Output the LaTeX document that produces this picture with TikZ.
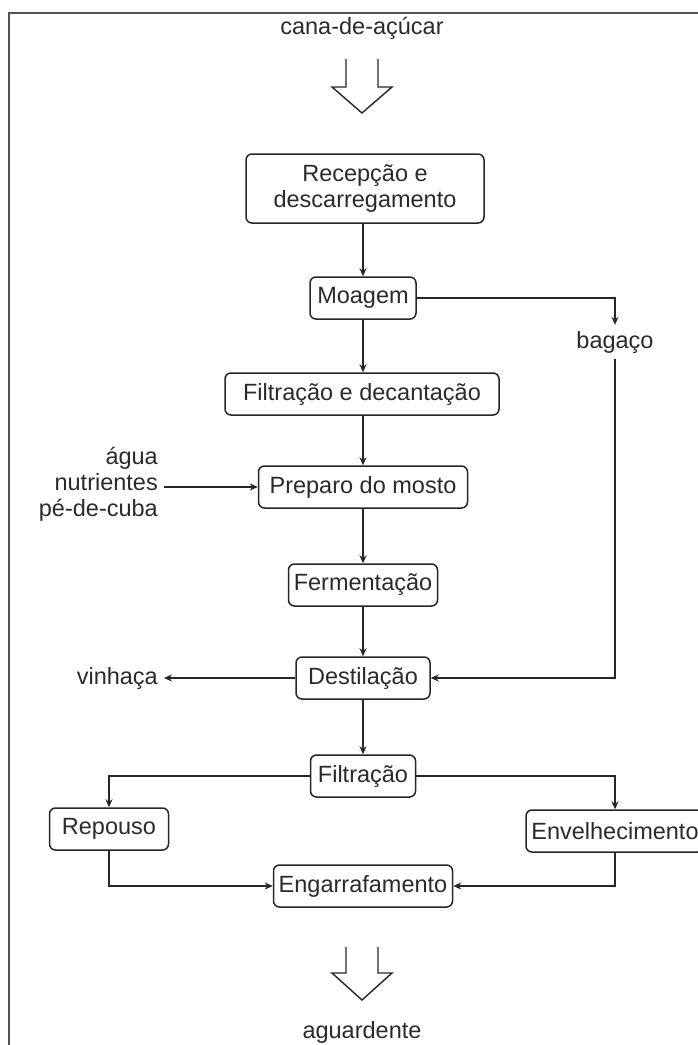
\documentclass[tikz,border=0pt]{standalone}
\usepackage{fontspec}
\setmainfont{Liberation Sans}
\usetikzlibrary{arrows.meta}
\definecolor{txt}{HTML}{2A2A2A}
\definecolor{ln}{HTML}{262626}
\tikzset{
  lbl/.style={font=\fontsize{23.5}{27}\selectfont, text=txt, inner sep=2pt},
  proc/.style={lbl, draw=ln, line width=1.5pt, rounded corners=6pt, minimum height=42pt, inner sep=0pt},
  conn/.style={draw=ln, line width=1.3pt},
  arr/.style={conn, -{Stealth[length=8pt,width=7pt]}},
  hollow/.style={draw=ln, line width=1.4pt, line join=miter}
}
\begin{document}
\begin{tikzpicture}[x=1pt,y=-1pt]
\useasboundingbox (0,0) rectangle (697,1045);
% frame
\draw[line width=2pt, draw=ln!80] (9,1050) -- (9,13) -- (700,13);

% texts
\node[lbl] (cana) at (362,28) {cana-de-açúcar};
\node[lbl] (agua) at (362,1032) {aguardente};

% top hollow arrow
\draw[hollow] (346,59) -- (346,87) -- (332,87) -- (362,113) -- (392,87) -- (378,87) -- (378,59);
% bottom hollow arrow
\draw[hollow] (346,947) -- (346,973) -- (332,973) -- (362,1000) -- (392,973) -- (378,973) -- (378,947);

% process boxes
\node[proc, minimum width=238pt, minimum height=69pt, align=center] (rec) at (365,188.5) {Recepção e\\[-1pt]descarregamento};
\node[proc, minimum width=106pt] (moa) at (363,298) {Moagem};
\node[proc, minimum width=274pt] (fdec) at (362,394) {Filtração e decantação};
\node[proc, minimum width=209pt] (prep) at (363,487) {Preparo do mosto};
\node[proc, minimum width=149pt] (ferm) at (363,585) {Fermentação};
\node[proc, minimum width=134pt] (dest) at (363,678) {Destilação};
\node[proc, minimum width=105pt] (filt) at (363,776) {Filtração};
\node[proc, minimum width=119pt] (rep) at (109,829) {Repouso};
\node[proc, minimum width=178pt] (env) at (615,831) {Envelhecimento};
\node[proc, minimum width=179pt] (eng) at (363,886) {Engarrafamento};

% side labels
\node[lbl, inner sep=6pt] (bag) at (615,342) {bagaço};
\node[lbl, align=right, anchor=east, inner sep=6pt, font=\fontsize{23.5}{26}\selectfont] (inp) at (164,484) {água\\nutrientes\\pé-de-cuba};
\node[lbl, anchor=east, inner sep=6pt] (vin) at (164,678) {vinhaça};

% connectors
\draw[arr] (rec.south -| moa.north) -- (moa.north);
\draw[arr] (moa.east) -| (bag.north);
\draw[arr] (bag.south) |- (dest.east);
\draw[arr] (moa.south) -- (fdec.north -| moa.south);
\draw[arr] (fdec.south -| prep.north) -- (prep.north);
\draw[arr] (inp.east |- prep.west) -- (prep.west);
\draw[arr] (prep.south) -- (ferm.north);
\draw[arr] (ferm.south) -- (dest.north);
\draw[arr] (dest.west) -- (vin.east);
\draw[arr] (dest.south) -- (filt.north);
\draw[arr] (filt.west) -| (rep.north);
\draw[arr] (filt.east) -| (env.north);
\draw[arr] (rep.south) |- (eng.west);
\draw[arr] (env.south) |- (eng.east);
\end{tikzpicture}
\end{document}
